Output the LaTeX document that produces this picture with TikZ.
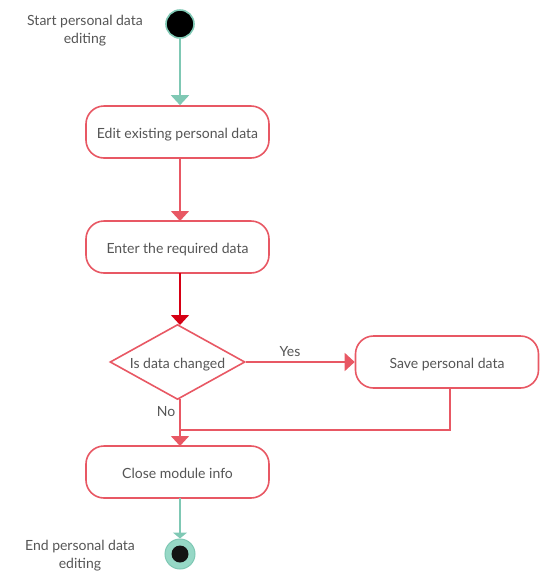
\documentclass[tikz,border=0pt]{standalone}
\usepackage{fontspec}
\setmainfont{Lato}
\usepackage{tikz}
\usetikzlibrary{arrows.meta,positioning,shapes.geometric}
\definecolor{flowred}{RGB}{232,88,100}
\definecolor{darkred}{RGB}{214,0,20}
\definecolor{mint}{RGB}{127,200,180}
\definecolor{lightmint}{RGB}{150,216,198}
\definecolor{textgray}{RGB}{85,85,85}
\tikzstyle{activity}=[draw=flowred,line width=1.6pt,fill=white,rounded corners=18pt,minimum width=183pt,minimum height=52pt,inner sep=0pt,text height=12.5pt,text depth=0pt,text=textgray]
\tikzstyle{decision}=[draw=flowred,line width=1.6pt,fill=white,diamond,aspect=1.8,minimum width=135pt,minimum height=75pt,inner sep=0pt,text height=12.5pt,text depth=0pt,text=textgray]
\tikzstyle{flow}=[draw=flowred,line width=1.6pt,-{Triangle[width=18pt,length=10pt]}]
\tikzstyle{note}=[text=textgray,align=center]

\begin{document}
\begin{tikzpicture}[x=1pt,y=-1pt,font=\fontsize{14}{18}\selectfont]
\useasboundingbox (0,0) rectangle (550,582);
\node [circle,fill=black,draw=mint,line width=1.6pt,minimum size=28pt,inner sep=0pt] (start) at (180,24) {};
\node [note] (startlabel) at (85,31) {Start personal data\\editing};
\node [activity] (edit) at (177.5,132) {Edit existing personal data};
\node [activity] (enter) at (177.5,247) {Enter the required data};
\node [decision] (changed) at (177.5,362) {Is data changed};
\node [activity] (save) at (447,362) {Save personal data};
\node [activity] (close) at (177.5,472) {Close module info};
\node [circle,fill=lightmint,draw=mint,line width=1pt,minimum size=30pt,inner sep=0pt] (end) at (180,554) {};
\node [circle,fill=black!92,minimum size=17pt,inner sep=0pt] (enddot) at (end) {};
\node [note] (endlabel) at (80,556) {End personal data\\editing};
\node [text=textgray] (yes) at (290,352) {Yes};
\node [text=textgray] (no) at (166,412) {No};
\coordinate (join) at (180,430);

\draw [flow,draw=mint,fill=mint] (start) -- (start |- edit.north);
\draw [flow,fill=flowred] (180,158) -- (180,221);
\draw [flow,draw=darkred,fill=darkred] (180,273) -- (180,325);
\draw [flow,fill=flowred] (changed.east) -- (save.west);
\draw [flow,fill=flowred] (180,399) -- (180,446);
\draw [draw=flowred,line width=1.6pt] (save.south -| 450,0) |- (join);
\draw [flow,draw=mint,fill=mint,-{Triangle[width=14pt,length=6pt]}] (180,498) -- (end);
\end{tikzpicture}
\end{document}
